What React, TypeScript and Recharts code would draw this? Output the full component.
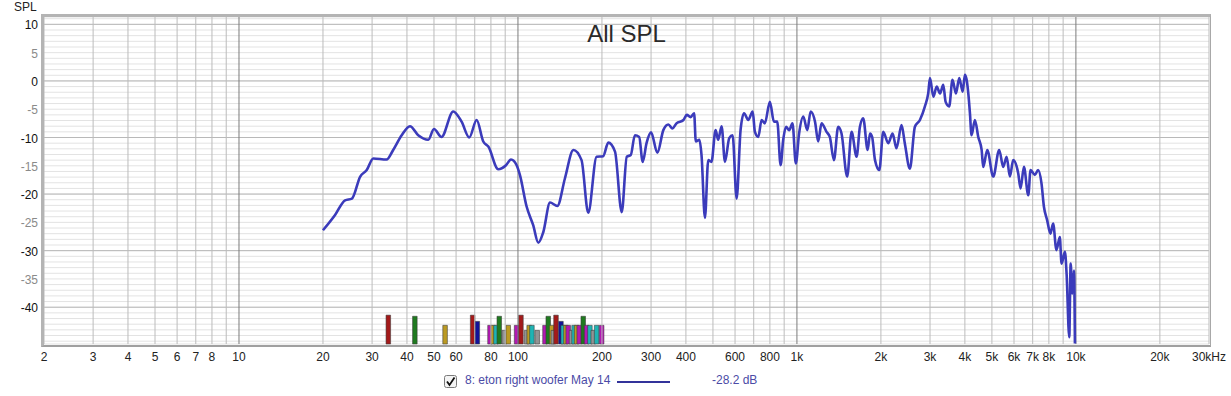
import React from "react";
import {
  ComposedChart,
  Line,
  XAxis,
  YAxis,
  CartesianGrid,
  ReferenceLine,
  ReferenceArea,
} from "recharts";

// frequency response (Hz / dB)
const freqHz = [
  20.0, 22.1, 24.0, 25.4, 27.2, 28.7, 30.3, 33.8, 35.7, 38.3, 41.0, 43.9, 47.7, 50.0, 53.2, 58.6,
  62.8, 66.9, 71.1, 75.1, 78.3, 85.0, 90.6, 94.4, 98.9, 101.6, 107.4, 113.4, 118.3, 123.3, 130.3,
  138.4, 147.4, 158, 169, 178.6, 191.4, 202, 210.8, 222.8, 235.5, 245.5, 253.7, 262.6, 272, 280,
  289, 300, 316, 332, 346, 358, 370, 392, 403, 416, 428, 434, 447, 455, 468, 481, 494, 511, 522,
  537, 552, 572, 588, 608, 628, 646, 669, 694, 707, 727, 747, 767, 800, 827, 850, 874, 893, 914,
  938, 964, 991, 1018, 1054, 1089, 1120, 1161, 1192, 1225, 1277, 1312, 1357, 1406, 1445, 1514,
  1570, 1636, 1682, 1728, 1793, 1828, 1860, 1905, 1974, 2039, 2125, 2202, 2275, 2371, 2436, 2540,
  2648, 2760, 2876, 2955, 2999, 3083, 3170, 3258, 3346, 3412, 3513, 3612, 3714, 3819, 3927, 4001,
  4055, 4120, 4170, 4226, 4345, 4467, 4593, 4654, 4810, 5055, 5310, 5490, 5645, 5800, 5960, 6211,
  6335, 6511, 6750, 6878, 7124, 7322, 7528, 7678, 7886, 8106, 8285, 8518, 8756, 8883, 9133, 9259,
  9466, 9577, 9707, 9843, 9920,
];
const splDb = [
  -26.4, -23.7, -21.1, -20.8, -16.9, -15.75, -13.7, -13.9, -12.2, -9.6, -8.0, -9.6, -10.4, -8.5,
  -9.9, -5.4, -7.2, -10.0, -6.9, -10.7, -11.6, -15.6, -14.9, -13.9, -14.9, -16.6, -22.2, -25.5,
  -28.6, -26.7, -21.5, -22.1, -17.2, -12.2, -14.0, -23.3, -13.4, -13.3, -10.9, -12.5, -23.2, -13.4,
  -13.1, -9.6, -9.9, -14.3, -11.0, -9.1, -12.7, -8.7, -7.7, -8.4, -7.5, -6.9, -6.0, -6.4, -5.7,
  -10.7, -10.4, -13.1, -24.2, -14.0, -14.3, -8.7, -10.4, -8.0, -14.3, -10.1, -9.6, -20.8, -8.7,
  -5.7, -6.9, -5.4, -9.0, -9.9, -6.9, -7.5, -3.7, -7.2, -7.2, -14.9, -10.4, -8.1, -8.7, -7.5,
  -14.6, -9.3, -6.3, -8.7, -5.4, -7.2, -10.7, -7.5, -9.0, -9.9, -14.0, -8.1, -9.3, -16.9, -9.0,
  -13.4, -8.1, -6.6, -12.2, -9.3, -9.9, -14.0, -15.75, -9.0, -11.0, -9.3, -11.9, -7.8, -11.0,
  -15.5, -8.1, -6.9, -4.5, -2.2, 0.5, -2.8, -1.0, -2.2, -0.7, -3.7, -4.5, 0.2, -2.2, 0.5, -1.9,
  1.1, 0.3, -2.5, -5.7, -9.6, -6.9, -9.9, -12.2, -15.2, -12.2, -16.9, -12.2, -15.2, -13.4, -16.9,
  -14.0, -16.3, -19.0, -15.2, -20.2, -15.75, -16.6, -15.75, -18.1, -22.2, -24.6, -27.0, -25.2,
  -29.9, -27.6, -32.3, -30.2, -34.0, -45.3, -32.3, -37.6, -33.5, -46.4,
];

// room mode markers along the bottom
const modeHz = [
  34.3, 42.7, 54.8, 68.8, 71.5, 79.4, 81.5, 83.4, 85.7, 89.3, 92.3, 98.9, 102.5, 107.4, 109.7,
  112.2, 117.2, 125.0, 128.4, 132.1, 133.9, 136.9, 142.6, 145.3, 148.6, 151.4, 155.6, 158.9,
  162.3, 165.8, 171.4, 176.2, 181.1, 186.2, 191.4, 199.5,
];
const modeDb = [
  -41.4, -41.6, -43.2, -41.4, -42.5, -43.2, -43.2, -43.2, -41.6, -44.1, -43.2, -43.2, -41.4, -44.1,
  -43.2, -43.2, -44.1, -43.2, -41.6, -43.2, -44.1, -41.4, -42.5, -43.2, -43.2, -43.2, -44.1, -43.2,
  -43.2, -43.2, -41.6, -43.2, -43.2, -44.1, -43.2, -43.2,
];
const modeKind = [
  "r", "g", "y", "r", "b", "m", "y", "c", "g", "k", "y", "m", "r", "k", "y",
  "c", "k", "m", "g", "y", "k", "r", "b", "c", "y", "m", "k", "c",
  "y", "m", "g", "m", "c", "k", "c", "m",
];

const xTicks = [
  2, 3, 4, 5, 6, 7, 8, 9, 10, 20, 30, 40, 50, 60, 70, 80, 90, 100, 200, 300, 400, 500, 600, 700,
  800, 900, 1000, 2000, 3000, 4000, 5000, 6000, 7000, 8000, 9000, 10000, 20000, 30000,
];
const xLabels: Record<number, string> = {
  2: "2", 3: "3", 4: "4", 5: "5", 6: "6", 7: "7", 8: "8", 10: "10", 20: "20", 30: "30", 40: "40",
  50: "50", 60: "60", 80: "80", 100: "100", 200: "200", 300: "300", 400: "400", 600: "600",
  800: "800", 1000: "1k", 2000: "2k", 3000: "3k", 4000: "4k", 5000: "5k", 6000: "6k", 7000: "7k",
  8000: "8k", 10000: "10k", 20000: "20k", 30000: "30kHz",
};
const decades = [10, 100, 1000, 10000];
const yTicks: number[] = [];
for (let v = -46; v <= 11; v++) yTicks.push(v);
const yLabelled = [10, 5, 0, -5, -10, -15, -20, -25, -30, -35, -40];
const yMajors = [10, 0, -10, -20, -30, -40];

const Y_MIN = -46.5;
const Y_MAX = 11.3;
const MODE_HALF = 1.019;

const modeColors: Record<string, string> = {
  r: "#a31a1a",
  g: "#1f7a1f",
  y: "#bb9a22",
  b: "#12129a",
  m: "#b218b2",
  c: "#1fb4b4",
  k: "#939393",
};

const data = freqHz.map((f, i) => ({ f, spl: splDb[i] }));

const FONT = '"Liberation Sans", Arial, sans-serif';

function XTick(props: any) {
  const { x, y, payload } = props;
  const label = xLabels[payload.value];
  if (!label) return null;
  return (
    <text x={x} y={y + 9} textAnchor="middle" fontSize={12} fontFamily={FONT} fill="#222">
      {label}
    </text>
  );
}

function YTick(props: any) {
  const { x, y, payload } = props;
  const v = payload.value;
  if (!yLabelled.includes(v)) return null;
  return (
    <text
      x={x + 2}
      y={y + 5}
      textAnchor="end"
      fontSize={12}
      fontFamily={FONT}
      fill={v % 10 === 0 ? "#111" : "#8a8a8a"}
    >
      {v}
    </text>
  );
}

export default function App() {
  return (
    <div
      style={{
        position: "absolute",
        left: 0,
        top: 0,
        width: 1231,
        height: 396,
        background: "#fff",
        fontFamily: FONT,
      }}
    >
      <ComposedChart
        width={1231}
        height={396}
        data={data}
        margin={{ top: 17, right: 22, left: 0, bottom: 0 }}
      >
        <CartesianGrid stroke="#e3e3e3" vertical={false} />
        <XAxis
          dataKey="f"
          type="number"
          scale="log"
          domain={[2, 30000]}
          ticks={xTicks}
          allowDataOverflow
          axisLine={false}
          tickLine={false}
          height={52}
          interval={0}
          tick={<XTick />}
        />
        <YAxis
          type="number"
          domain={[Y_MIN, Y_MAX]}
          ticks={yTicks}
          allowDataOverflow
          axisLine={false}
          tickLine={false}
          width={44}
          interval={0}
          tick={<YTick />}
        />
        {yMajors.map((v) => (
          <ReferenceLine key={`h${v}`} y={v} stroke="#b9b9b9" strokeWidth={1} />
        ))}
        {xTicks
          .filter((f) => !decades.includes(f))
          .map((f) => (
            <ReferenceLine key={`v${f}`} x={f} stroke="#bcbcbc" strokeWidth={1} />
          ))}
        {decades.map((f) => (
          <ReferenceLine key={`d${f}`} x={f} stroke="#7c7c7c" strokeWidth={1} />
        ))}
        {modeHz.map((f, i) => (
          <ReferenceArea
            key={`m${i}`}
            x1={f / MODE_HALF}
            x2={f * MODE_HALF}
            y1={Y_MIN}
            y2={modeDb[i]}
            fill={modeColors[modeKind[i]]}
            fillOpacity={1}
            stroke="#3a3a3a"
            strokeWidth={0.7}
            strokeOpacity={0.8}
          />
        ))}
        <Line
          type="monotoneX"
          dataKey="spl"
          stroke="#3b3bbb"
          strokeWidth={2.6}
          dot={false}
          isAnimationActive={false}
        />
      </ComposedChart>

      {/* plot frame */}
      <div
        style={{
          position: "absolute",
          left: 41,
          top: 14,
          width: 1166,
          height: 328,
          borderTop: "3px solid #b4b4b4",
          borderLeft: "3px solid #b4b4b4",
          borderRight: "1px solid #a8a8a8",
          borderBottom: "2px solid #a0a0a0",
          pointerEvents: "none",
        }}
      />

      <div style={{ position: "absolute", left: 14, top: 0, fontSize: 12, color: "#222" }}>SPL</div>

      <div
        style={{
          position: "absolute",
          left: 44,
          width: 1165,
          top: 20,
          textAlign: "center",
          fontSize: 24,
          color: "#2a2a2a",
        }}
      >
        All SPL
      </div>

      {/* legend */}
      <svg
        style={{ position: "absolute", left: 444, top: 375 }}
        width={14}
        height={14}
      >
        <rect x={0.5} y={0.5} width={12} height={12} rx={2} fill="#f4f4f4" stroke="#7a7a7a" />
        <path d="M3 6.5 L5.5 10 L10.5 2.5" stroke="#111" strokeWidth={1.8} fill="none" />
      </svg>
      <div
        style={{ position: "absolute", left: 465, top: 373, fontSize: 12, color: "#4b4ba6" }}
      >
        8: eton right woofer May 14
      </div>
      <div
        style={{
          position: "absolute",
          left: 617,
          top: 381,
          width: 53,
          height: 2,
          background: "#33339a",
        }}
      />
      <div
        style={{ position: "absolute", left: 712, top: 373, fontSize: 12, color: "#4b4ba6" }}
      >
        -28.2 dB
      </div>
    </div>
  );
}
